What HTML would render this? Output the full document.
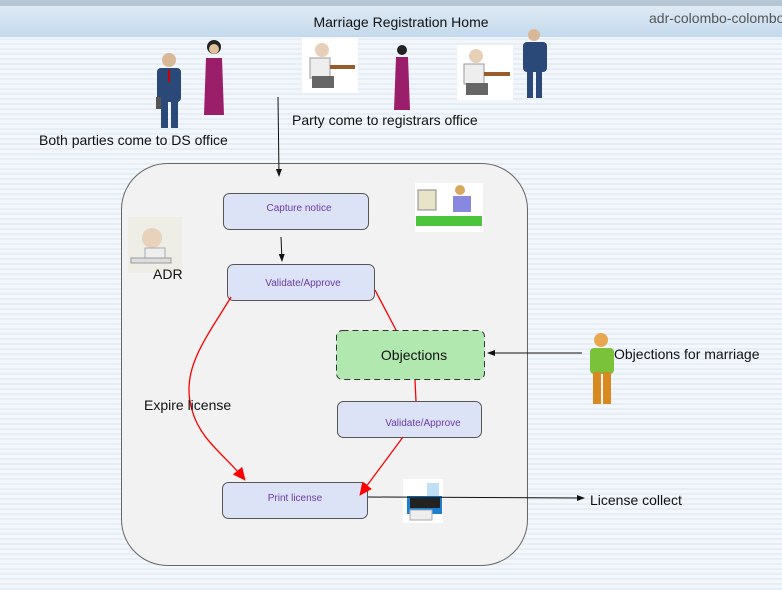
<!DOCTYPE html>
<html><head><meta charset="utf-8"><style>
html,body{margin:0;padding:0;width:782px;height:590px;overflow:hidden;font-family:"Liberation Sans",sans-serif}
body{background:repeating-linear-gradient(180deg,#f3f7fb 0,#f3f7fb 3px,#e6eff7 3px,#e6eff7 5px)}
</style></head><body>
<svg width="782" height="590" viewBox="0 0 782 590" xmlns="http://www.w3.org/2000/svg" style="position:absolute;left:0;top:0;font-family:'Liberation Sans',sans-serif">
<defs>
<linearGradient id="hd" x1="0" y1="0" x2="0" y2="1"><stop offset="0" stop-color="#dfeaf5"/><stop offset="1" stop-color="#c3d9ec"/></linearGradient>
<marker id="ak" markerWidth="8" markerHeight="8" refX="7" refY="4" orient="auto" markerUnits="userSpaceOnUse"><path d="M0,1 L8,4 L0,7z" fill="#111"/></marker>
<marker id="ar" markerWidth="14" markerHeight="14" refX="12" refY="6" orient="auto" markerUnits="userSpaceOnUse"><path d="M0,0 L13,6 L0,12z" fill="#f00"/></marker>
</defs>
<rect x="0" y="0" width="782" height="6" fill="#b7c6d4"/>
<rect x="0" y="6" width="782" height="31" fill="url(#hd)"/>
<text x="401" y="27" font-size="14" text-anchor="middle" fill="#111">Marriage Registration Home</text>
<text x="649" y="23" font-size="14" fill="#555">adr-colombo-colombo</text>

<!-- people top-left -->
<g>
<circle cx="169" cy="60" r="7" fill="#d9b89a"/><rect x="157" y="68" width="24" height="34" rx="4" fill="#2a4878"/><rect x="161" y="100" width="7" height="28" fill="#2a4878"/><rect x="171" y="100" width="7" height="28" fill="#2a4878"/><rect x="168" y="70" width="2" height="12" fill="#c00"/><rect x="156" y="97" width="5" height="12" fill="#555"/>
<circle cx="214" cy="47" r="7" fill="#222"/><circle cx="214" cy="49" r="5" fill="#e3c09e"/><path d="M206,58 L222,58 L224,115 L204,115z" fill="#9b1e6a"/>
</g>
<!-- desk clips -->
<rect x="302" y="38" width="56" height="55" fill="#fff"/>
<circle cx="322" cy="50" r="7" fill="#e8d0b8"/><rect x="310" y="58" width="20" height="20" fill="#eee" stroke="#999"/><rect x="330" y="65" width="25" height="4" fill="#9a5b2a"/><rect x="312" y="76" width="22" height="12" fill="#666"/>
<circle cx="402" cy="50" r="5" fill="#222"/><path d="M396,57 L408,57 L410,110 L394,110z" fill="#9b1e6a"/>
<rect x="457" y="45" width="56" height="55" fill="#fff"/>
<circle cx="476" cy="56" r="7" fill="#e8d0b8"/><rect x="464" y="64" width="20" height="20" fill="#eee" stroke="#999"/><rect x="484" y="72" width="26" height="4" fill="#9a5b2a"/><rect x="466" y="83" width="22" height="12" fill="#666"/>
<circle cx="534" cy="35" r="6" fill="#d9b89a"/><rect x="523" y="42" width="24" height="30" rx="4" fill="#2a4878"/><rect x="527" y="70" width="6" height="28" fill="#2a4878"/><rect x="536" y="70" width="6" height="28" fill="#2a4878"/>

<text x="39" y="145" font-size="14" fill="#111">Both parties come to DS office</text>
<text x="292" y="125" font-size="14" fill="#111">Party come to registrars office</text>

<!-- container -->
<rect x="121.5" y="163.5" width="406" height="402" rx="46" fill="#f2f2f2" stroke="#666"/>
<line x1="278" y1="97" x2="279" y2="176" stroke="#111" marker-end="url(#ak)"/>

<!-- computer clip -->
<rect x="415" y="183" width="68" height="49" fill="#fff"/>
<rect x="418" y="190" width="18" height="20" fill="#e8e4c8" stroke="#888"/><circle cx="460" cy="190" r="5" fill="#d8a860"/><rect x="453" y="196" width="18" height="16" fill="#8888e0"/><rect x="416" y="216" width="66" height="10" fill="#4cc43c"/>
<!-- ADR clip -->
<rect x="128" y="217" width="54" height="56" fill="#eeeee6"/>
<circle cx="152" cy="238" r="10" fill="#e8d2bc"/><rect x="145" y="248" width="20" height="14" fill="#eee" stroke="#aaa"/><rect x="131" y="258" width="40" height="5" fill="#ddd" stroke="#999"/>
<text x="153" y="279" font-size="14" fill="#111">ADR</text>

<!-- boxes -->
<g font-size="10" fill="#6a3aa8" text-anchor="middle">
<rect x="223.5" y="193.5" width="145" height="36" rx="6" fill="#dde3f6" stroke="#555"/>
<text x="299" y="211" fill="#6a3aa8">Capture notice</text>
<rect x="227.5" y="264.5" width="147" height="36" rx="6" fill="#dde3f6" stroke="#555"/>
<text x="303" y="286" fill="#6a3aa8">Validate/Approve</text>
<rect x="337.5" y="401.5" width="144" height="36" rx="6" fill="#dde3f6" stroke="#555"/>
<text x="423" y="426" fill="#6a3aa8">Validate/Approve</text>
<rect x="222.5" y="482.5" width="145" height="36" rx="6" fill="#dde3f6" stroke="#555"/>
<text x="295" y="501" fill="#6a3aa8">Print license</text>
</g>
<rect x="336.5" y="330.5" width="148" height="49" rx="6" fill="#b0e8b0" stroke="#333" stroke-dasharray="6,4"/>
<text x="414" y="360" font-size="14" text-anchor="middle" fill="#111">Objections</text>

<line x1="281" y1="237" x2="282" y2="261" stroke="#111" marker-end="url(#ak)"/>
<!-- red connectors -->
<path d="M231,297 C205,340 180,370 192,410 C200,440 225,455 245,480" fill="none" stroke="#f00" stroke-width="1.3" marker-end="url(#ar)"/>
<path d="M375,290 L396,330" stroke="#f00" stroke-width="1.3"/>
<path d="M415,380 L416,401" stroke="#f00" stroke-width="1.3"/>
<path d="M403,437 L360,495" fill="none" stroke="#f00" stroke-width="1.3" marker-end="url(#ar)"/>
<text x="144" y="410" font-size="14" fill="#111">Expire license</text>

<!-- objections man -->
<line x1="582" y1="353" x2="488" y2="353" stroke="#111" marker-end="url(#ak)"/>
<circle cx="601" cy="340" r="7" fill="#e8a850"/><rect x="590" y="348" width="24" height="26" rx="4" fill="#7ac23a"/><rect x="593" y="372" width="8" height="32" fill="#d88a20"/><rect x="603" y="372" width="8" height="32" fill="#d88a20"/>
<text x="614" y="359" font-size="14" fill="#111">Objections for marriage</text>

<!-- printer -->
<rect x="403" y="479" width="40" height="44" fill="#fff"/>
<rect x="427" y="483" width="12" height="14" fill="#bfe0f4"/><rect x="407" y="496" width="35" height="18" fill="#1d7fd0"/><rect x="410" y="498" width="30" height="10" fill="#222"/><rect x="410" y="510" width="22" height="10" fill="#eee" stroke="#aaa"/>
<line x1="368" y1="497" x2="584" y2="498" stroke="#111" marker-end="url(#ak)"/>
<text x="590" y="505" font-size="14" fill="#111">License collect</text>
</svg>
</body></html>
